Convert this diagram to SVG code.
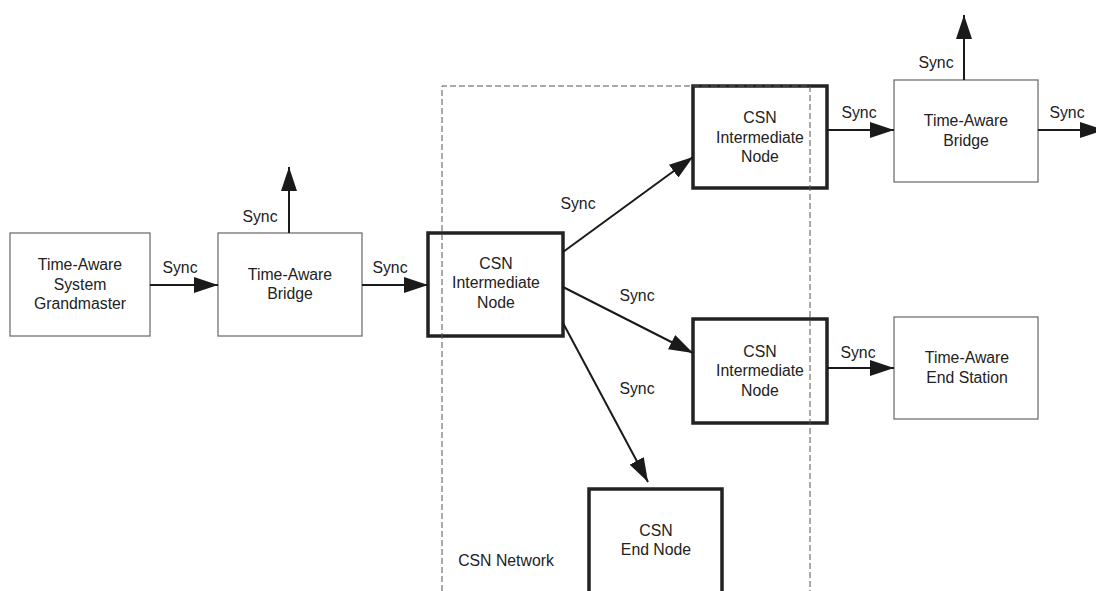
<svg xmlns="http://www.w3.org/2000/svg" width="1096" height="591" viewBox="0 0 1096 591">
<style>
text{font-family:"Liberation Sans",Arial,sans-serif;font-size:15.8px;fill:#222;text-anchor:middle}
.thin{fill:#fff;stroke:#666;stroke-width:1.2}
.thick{fill:#fff;stroke:#222;stroke-width:3.5}
.conn{stroke:#1a1a1a;stroke-width:2;fill:none;marker-end:url(#ah)}
.dash{fill:none;stroke:#555;stroke-width:1;stroke-dasharray:6,3}
</style>
<defs>
<marker id="ah" markerUnits="userSpaceOnUse" markerWidth="24" markerHeight="16" refX="24" refY="8" orient="auto">
<path d="M0,0 L24,8 L0,16 z" fill="#1a1a1a"/>
</marker>
</defs>
<rect width="1096" height="591" fill="#fff"/>
<g id="gm">
<rect class="thin" x="10" y="233" width="140" height="103"/>
<text x="80" y="270">Time-Aware</text>
<text x="80" y="290">System</text>
<text x="80" y="309">Grandmaster</text>
</g>
<g id="bridge1">
<rect class="thin" x="218" y="233" width="144" height="103"/>
<text x="290" y="280">Time-Aware</text>
<text x="290" y="299">Bridge</text>
</g>
<g id="csn-main">
<rect class="thick" x="428" y="233" width="135" height="103"/>
<text x="496" y="269">CSN</text>
<text x="496" y="288">Intermediate</text>
<text x="496" y="308">Node</text>
</g>
<g id="csn-top">
<rect class="thick" x="693" y="86" width="134" height="102"/>
<text x="760" y="123">CSN</text>
<text x="760" y="143">Intermediate</text>
<text x="760" y="162">Node</text>
</g>
<g id="csn-mid">
<rect class="thick" x="693" y="319" width="134" height="104"/>
<text x="760" y="357">CSN</text>
<text x="760" y="376">Intermediate</text>
<text x="760" y="396">Node</text>
</g>
<g id="csn-end">
<rect class="thick" x="589" y="489" width="133" height="120"/>
<text x="656" y="536">CSN</text>
<text x="656" y="555">End Node</text>
</g>
<g id="bridge2">
<rect class="thin" x="894" y="80" width="144" height="102"/>
<text x="966" y="126">Time-Aware</text>
<text x="966" y="146">Bridge</text>
</g>
<g id="endstation">
<rect class="thin" x="894" y="317" width="144" height="102"/>
<text x="967" y="363">Time-Aware</text>
<text x="967" y="383">End Station</text>
</g>
<g id="csn-network">
<path class="dash" d="M442,600 V86 H810 V600"/>
<text x="506" y="566">CSN Network</text>
</g>
<g id="connectors">
<line class="conn" x1="150" y1="285" x2="218" y2="285"/>
<line class="conn" x1="289" y1="233" x2="289" y2="167"/>
<line class="conn" x1="362" y1="285" x2="428" y2="285"/>
<line class="conn" x1="563" y1="252" x2="693" y2="157"/>
<line class="conn" x1="563" y1="287" x2="693" y2="353"/>
<line class="conn" x1="563" y1="323" x2="648" y2="482"/>
<line class="conn" x1="827" y1="130" x2="894" y2="130"/>
<line class="conn" x1="964" y1="80" x2="964" y2="15"/>
<line class="conn" x1="1038" y1="130" x2="1104" y2="130"/>
<line class="conn" x1="827" y1="368" x2="894" y2="368"/>
<text x="180" y="273">Sync</text>
<text x="260" y="222">Sync</text>
<text x="390" y="273">Sync</text>
<text x="578" y="209">Sync</text>
<text x="637" y="301">Sync</text>
<text x="637" y="394">Sync</text>
<text x="859" y="118">Sync</text>
<text x="936" y="68">Sync</text>
<text x="1067" y="118">Sync</text>
<text x="858" y="358">Sync</text>
</g>
</svg>
